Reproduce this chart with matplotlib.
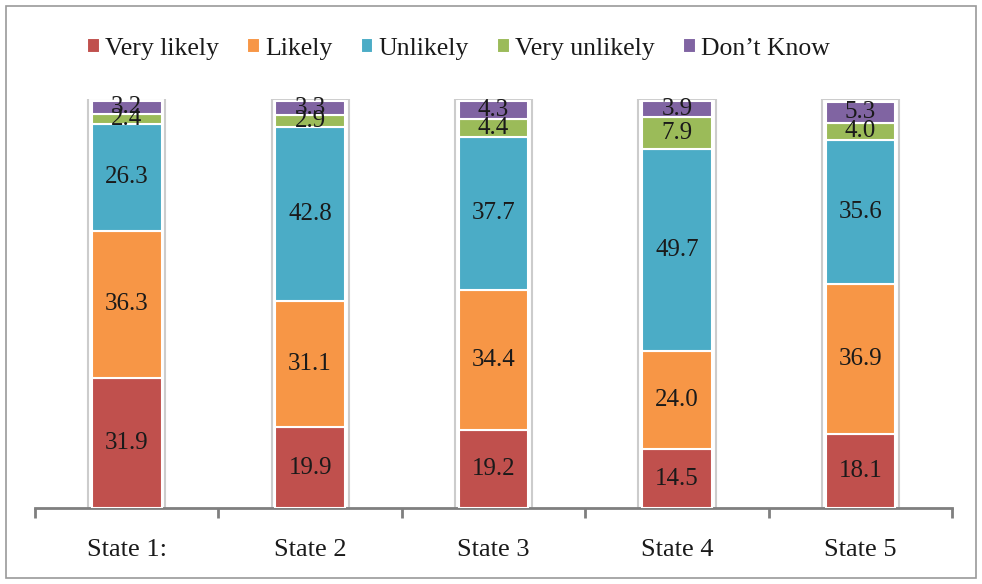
import matplotlib.pyplot as plt
from matplotlib.patches import Rectangle
import numpy as np

plt.rcParams['font.family'] = ['Liberation Serif', 'DejaVu Serif']

states = ["State 1:", "State 2", "State 3", "State 4", "State 5"]
series = ["Very likely", "Likely", "Unlikely", "Very unlikely", "Don\u2019t Know"]
very_likely = [31.9, 19.9, 19.2, 14.5, 18.1]
likely = [36.3, 31.1, 34.4, 24.0, 36.9]
unlikely = [26.3, 42.8, 37.7, 49.7, 35.6]
very_unlikely = [2.4, 2.9, 4.4, 7.9, 4.0]
dont_know = [3.2, 3.3, 4.3, 3.9, 5.3]
colors = ["#C0504D", "#F79646", "#4BACC6", "#9BBB59", "#8064A2"]

fig = plt.figure(figsize=(9.82, 5.84), dpi=100)
ax = fig.add_axes([0.0356, 0.130, 0.934, 0.700])

x = np.arange(len(states))
width = 0.38
bottom = np.zeros(len(states))
for name, vals, col in zip(series, [very_likely, likely, unlikely, very_unlikely, dont_know], colors):
    vals = np.array(vals)
    ax.bar(x, vals, width, bottom=bottom, color=col, edgecolor='white', linewidth=1.5, label=name, zorder=3)
    for xi, b, v in zip(x, bottom, vals):
        ax.text(xi, b + v / 2, f"{v:.1f}", ha='center', va='center', fontsize=18, color='#1a1a1a', zorder=4)
    bottom += vals

# light grey outline around each stack
for xi, tot in zip(x, bottom):
    ax.add_patch(Rectangle((xi - width / 2 - 0.02, 0), width + 0.04, tot + 0.6,
                           facecolor='none', edgecolor='#cccccc', linewidth=1.5, zorder=2))

ax.set_xlim(-0.5, 4.5)
ax.set_ylim(0, 100.5)
for s in ['top', 'right', 'left']:
    ax.spines[s].set_visible(False)
ax.spines['bottom'].set_color('#7f7f7f')
ax.spines['bottom'].set_linewidth(2)
ax.set_yticks([])
ax.set_xticks(x)
ax.set_xticklabels(states, fontsize=19, color='#1a1a1a')
ax.tick_params(axis='x', which='major', length=0, pad=22)
ax.set_xticks(np.arange(-0.5, 5.0, 1.0), minor=True)
ax.tick_params(axis='x', which='minor', length=7, width=2, color='#7f7f7f')

leg = fig.legend(loc='upper left', bbox_to_anchor=(0.065, 0.975), ncol=5, frameon=False,
                 fontsize=18.5, handlelength=0.5, handleheight=0.5, handletextpad=0.2,
                 columnspacing=1.1)
for t in leg.get_texts():
    t.set_color('#1a1a1a')

fig.patches.append(Rectangle((0.006, 0.01), 0.988, 0.98, transform=fig.transFigure,
                             facecolor='none', edgecolor='#9a9a9a', linewidth=1.2))

fig.savefig('out.png', dpi=100)
